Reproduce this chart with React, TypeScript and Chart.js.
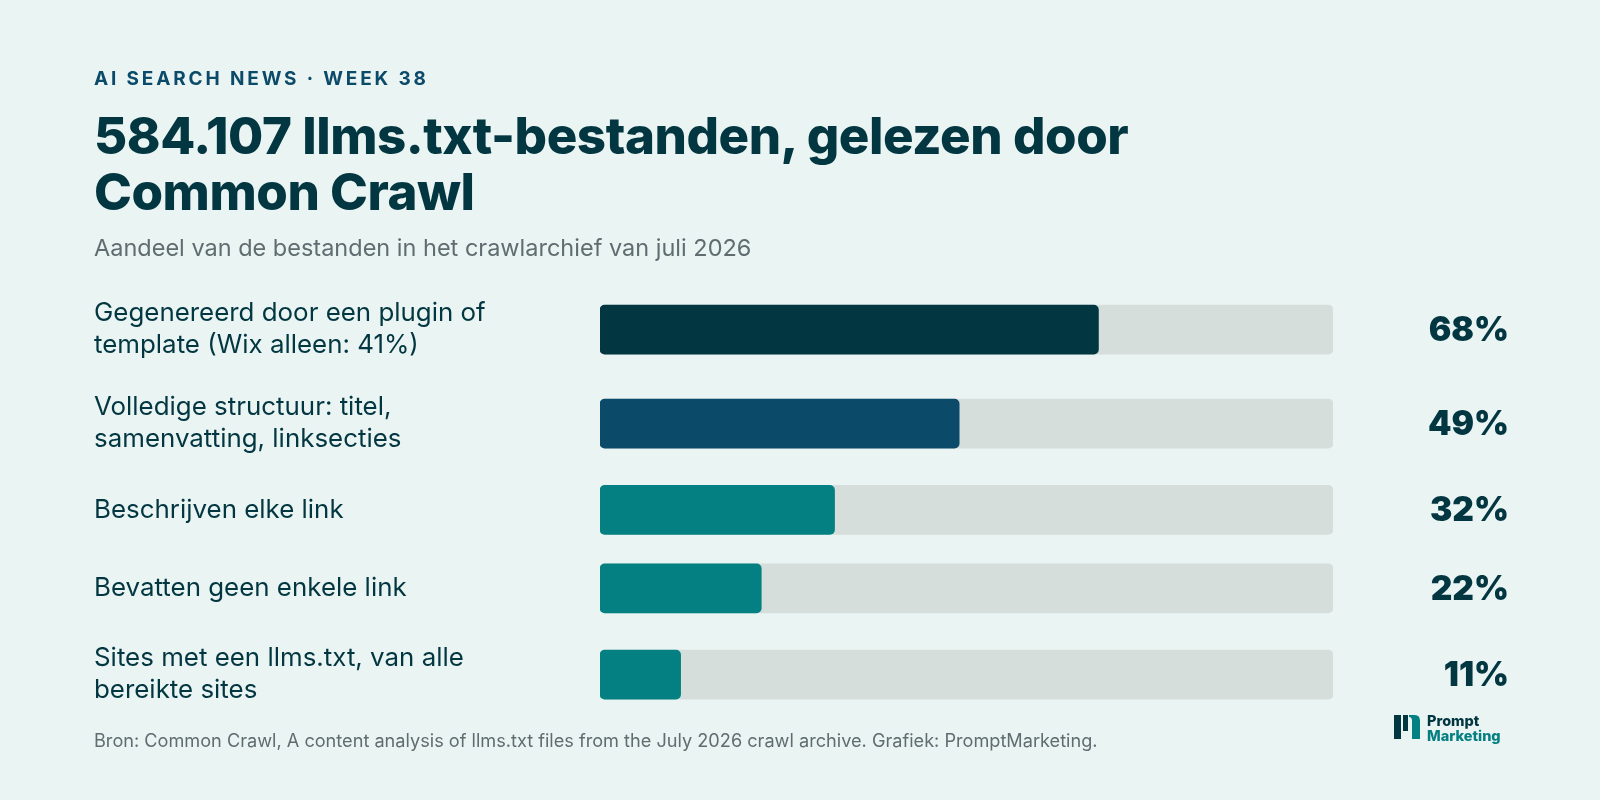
// App.tsx
// Horizontal share bars on a linear y axis, so two-line rows can take more room than one-line rows.
import { useEffect, useRef } from "react";
import { Chart, registerables } from "chart.js";

Chart.register(...registerables);

const labels: string[][] = [
  ["Gegenereerd door een plugin of", "template (Wix alleen: 41%)"],
  ["Volledige structuur: titel,", "samenvatting, linksecties"],
  ["Beschrijven elke link"],
  ["Bevatten geen enkele link"],
  ["Sites met een llms.txt, van alle", "bereikte sites"],
];
const values = [68, 49, 32, 22, 11];
const barColors = ["#023640", "#0B4A68", "#058082", "#058082", "#058082"];

const FONT = "Inter, sans-serif";
const INK = "#023640";
const ROW_ONE_LINE = 49;
const ROW_TWO_LINES = 64.5;
const ROW_GAP = 29.5;
const VALUE_NUDGE = 1.5; // big percentages sit a little under the bar centre

// row centres follow from how many lines each label needs
const rowHeights = labels.map((l) => (l.length > 1 ? ROW_TWO_LINES : ROW_ONE_LINE));
const rowCenters = rowHeights.map(
  (h, i) => rowHeights.slice(0, i).reduce((sum, r) => sum + r + ROW_GAP, 0) + h / 2,
);
const rowsTotal = rowHeights.reduce((sum, r) => sum + r, 0) + ROW_GAP * (rowHeights.length - 1);

function ShareBars() {
  const ref = useRef<HTMLCanvasElement>(null);

  useEffect(() => {
    if (!ref.current) return;
    const setRowTicks = (scale: any) => {
      scale.ticks = rowCenters.map((value) => ({ value }));
    };
    // axis boxes take a fixed width and no extra room for the label overhang
    const fitAxis = (width: number) => (scale: any) => {
      scale.width = width;
      scale.paddingTop = 0;
      scale.paddingBottom = 0;
    };
    const chart = new Chart(ref.current, {
      type: "bar",
      data: {
        datasets: [
          {
            label: "Aandeel",
            data: values.map((v, i) => ({ x: v, y: rowCenters[i] })),
            backgroundColor: barColors,
            borderRadius: 5,
            borderSkipped: false,
            barThickness: 49,
            grouped: false,
          },
          {
            label: "Totaal",
            data: values.map((_, i) => ({ x: 100, y: rowCenters[i] })),
            backgroundColor: "#D5DEDB",
            borderRadius: 5,
            borderSkipped: false,
            barThickness: 49,
            grouped: false,
          },
        ],
      },
      options: {
        indexAxis: "y",
        responsive: false,
        animation: false,
        layout: { padding: { top: 297.3, bottom: 800 - 706.8, left: 94, right: 91 } },
        plugins: { legend: { display: false }, tooltip: { enabled: false } },
        scales: {
          x: { display: false, min: 0, max: 100 },
          y: {
            type: "linear",
            position: "left",
            reverse: true,
            offset: false,
            min: 0,
            max: rowsTotal,
            afterBuildTicks: setRowTicks,
            afterFit: fitAxis(506),
            grid: { display: false },
            border: { display: false },
            ticks: {
              autoSkip: false,
              crossAlign: "far",
              padding: 0,
              color: INK,
              font: { family: FONT, size: 25.9, weight: 400, lineHeight: 1.24 },
              callback: (_v: any, i: number) => labels[i],
            },
          },
          yValue: {
            type: "linear",
            position: "right",
            reverse: true,
            offset: false,
            min: -VALUE_NUDGE,
            max: rowsTotal - VALUE_NUDGE,
            afterBuildTicks: setRowTicks,
            afterFit: fitAxis(176),
            grid: { display: false },
            border: { display: false },
            ticks: {
              autoSkip: false,
              crossAlign: "far",
              padding: 0,
              color: INK,
              font: { family: FONT, size: 33.5, weight: 900 },
              callback: (_v: any, i: number) => values[i] + "%",
            },
          },
        },
      } as any,
    });
    return () => chart.destroy();
  }, []);

  return <canvas ref={ref} width={1600} height={800} style={{ position: "absolute", left: 0, top: 0 }} />;
}

const text = (left: number, top: number, size: number, weight: number, color: string, extra = {}) => ({
  position: "absolute" as const,
  left,
  top,
  fontFamily: FONT,
  fontSize: size,
  fontWeight: weight,
  color,
  whiteSpace: "nowrap" as const,
  ...extra,
});

export default function App() {
  useEffect(() => {
    document.body.style.margin = "0";
  }, []);

  return (
    <div style={{ position: "relative", width: 1600, height: 800, background: "#EAF4F3", overflow: "hidden" }}>
      <ShareBars />
      <div style={text(94, 67, 19, 700, "#0B4A68", { letterSpacing: 2.85, lineHeight: "24px" })}>
        AI SEARCH NEWS · WEEK 38
      </div>
      <div style={text(94, 108, 51, 800, INK, { letterSpacing: -0.45, lineHeight: "56px" })}>
        584.107 llms.txt-bestanden, gelezen door
        <br />
        Common Crawl
      </div>
      <div style={text(94, 234, 23.5, 400, "#5F6C70", { lineHeight: "28px" })}>
        Aandeel van de bestanden in het crawlarchief van juli 2026
      </div>
      <div style={text(94, 728, 18.15, 400, "#5F6C70", { lineHeight: "24px" })}>
        Bron: Common Crawl, A content analysis of llms.txt files from the July 2026 crawl archive. Grafiek: PromptMarketing.
      </div>
      <svg width="26" height="24" viewBox="0 0 26 24" style={{ position: "absolute", left: 1394, top: 715 }}>
        <path d="M0 0H7V24H0Z M9 0H14V16H9Z" fill="#023640" />
        <path d="M15 0H21Q26 0 26 6V24H18V6Q18 2 15 2Z" fill="#058082" />
      </svg>
      <div style={text(1427, 712, 14.5, 800, INK, { lineHeight: "17px" })}>Prompt</div>
      <div style={text(1427, 727, 14.5, 800, "#058082", { lineHeight: "17px" })}>Marketing</div>
    </div>
  );
}
